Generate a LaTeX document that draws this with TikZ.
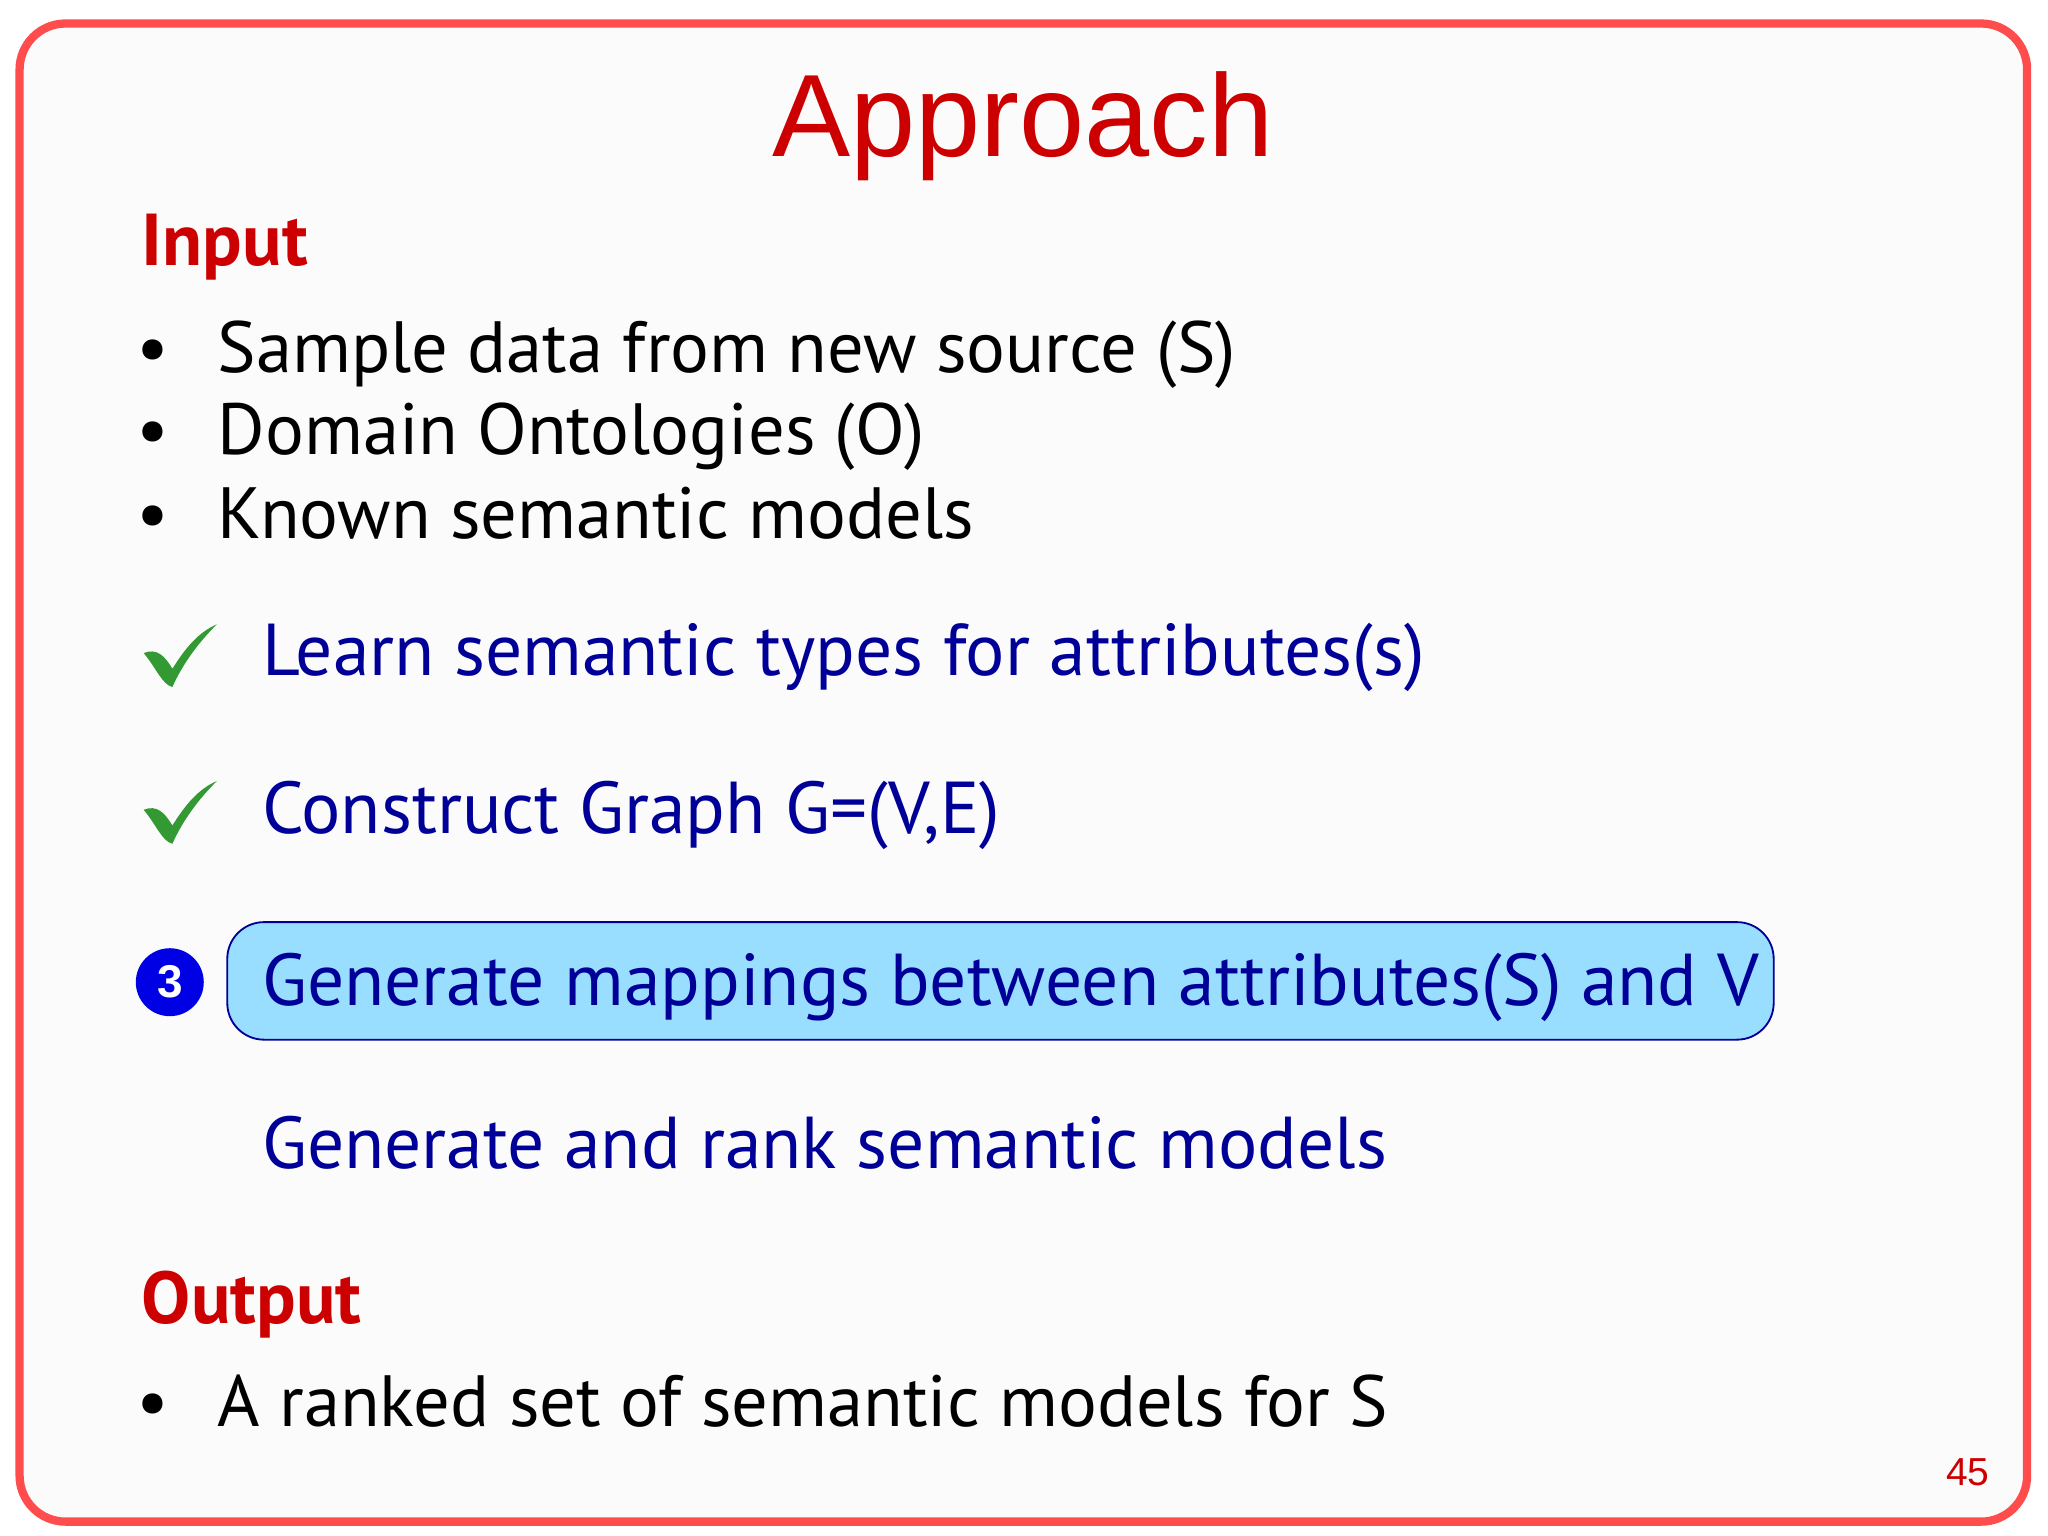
\documentclass[tikz,border=0pt]{standalone}
\usepackage{fontspec}
\setmainfont{PT Sans}
\newfontfamily\arialf{Liberation Sans}
\definecolor{slred}{HTML}{CC0000}
\definecolor{slblue}{HTML}{000099}
\definecolor{boxfill}{HTML}{99DDFF}
\definecolor{chk}{HTML}{339933}
\begin{document}
\begin{tikzpicture}[x=0.01cm,y=-0.01cm,
  bul/.style={anchor=base west,font=\fontsize{15.8}{18}\selectfont,text=black,inner sep=0},
  itm/.style={anchor=base west,font=\fontsize{16}{20}\selectfont,text=slblue,inner sep=0},
  hd/.style={anchor=base west,font=\fontsize{16}{20}\selectfont\bfseries,text=slred,inner sep=0},
  check/.style={fill=chk}]
\useasboundingbox (0,0) rectangle (1568,1176);
\fill[white] (0,0) rectangle (1568,1176);
\draw[red!70,line width=1.8pt,rounded corners=10pt,fill=gray!3] (15,18) rectangle (1552,1165);
\node[anchor=base,font=\arialf\fontsize{25.5}{30}\selectfont,text=slred,inner sep=0] (title) at (783,120) {Approach};
\node[hd] (input) at (108,203) {Input};
\foreach \y/\t/\n in {285/{Sample data from new source (S)}/b1,348/{Domain Ontologies (O)}/b2,412/{Known semantic models}/b3,1092/{A ranked set of semantic models for S}/b4}{
  \node[bul] (\n) at (166,\y) {\t};
  \node[anchor=base,inner sep=0,font=\fontsize{15.8}{18}\selectfont] (\n d) at (117,\y) {•};
}
\node[itm] (l1) at (200,517) {Learn semantic types for attributes(s)};
\node[itm] (l2) at (200,638) {Construct Graph G=(V,E)};
\draw[slblue,fill=boxfill,rounded corners=8pt] (174,706) rectangle (1358,796);
\node[itm] (l3) at (200,770) {Generate mappings between attributes(S) and V};
\node[itm] (l4) at (200,895) {Generate and rank semantic models};
\node[circle,fill=blue!90!black,minimum size=0.52cm,inner sep=0,text=white,font=\arialf\bfseries\fontsize{10}{12}\selectfont] (c3) at (130,752) {3};
\node[hd] (output) at (108,1013) {Output};
\node[anchor=base east,font=\arialf\fontsize{8.5}{10}\selectfont,text=slred,inner sep=0] (pg) at (1524,1137) {45};
\foreach \yy in {0,120}{
  \begin{scope}[yshift=-\yy*0.01cm]
  \fill[check] (110,500) .. controls (120,496) and (126,502) .. (132,512) .. controls (142,496) and (152,484) .. (166,478) .. controls (152,492) and (140,508) .. (132,526) .. controls (124,524) and (120,512) .. (110,500) -- cycle;
  \end{scope}
}
\end{tikzpicture}
\end{document}
